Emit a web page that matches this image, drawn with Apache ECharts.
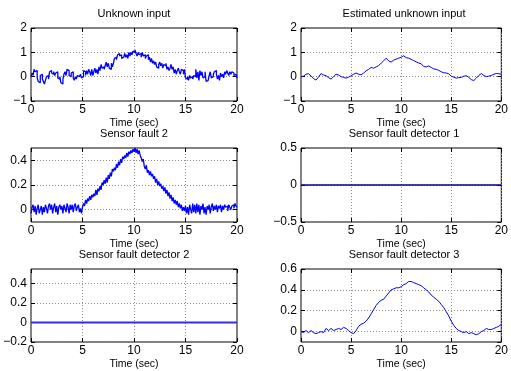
<!DOCTYPE html>
<html>
<head>
<meta charset="utf-8">
<script src="https://cdn.jsdelivr.net/npm/echarts@6/dist/echarts.min.js"></script>
<style>
html,body{margin:0;padding:0;background:#fff;}
#c{width:511px;height:371px;}
</style>
</head>
<body>
<div id="c"></div>
<script>
// ---------- data ----------
var titles = ['Unknown input', 'Estimated unknown input', 'Sensor fault 2',
              'Sensor fault detector 1', 'Sensor fault detector 2', 'Sensor fault detector 3'];
var xLabel = 'Time (sec)';
var xTicks = [0, 5, 10, 15, 20];

// sampled every 0.1 s (0 .. 20)
var dtFine = 0.1;
var unknownInput = [
  0.0, 0.15, 0.05, 0.3, 0.2, 0.25, -0.05, -0.2, -0.25, 0.05,
  0.1, -0.1, -0.2, -0.3, -0.15, 0.0, 0.05, -0.1, 0.2, 0.25,
  0.15, 0.1, 0.2, 0.05, 0.15, 0.2, -0.05, -0.1, 0.0, -0.25,
  -0.3, -0.1, 0.1, 0.2, 0.05, 0.3, 0.25, 0.05, 0.0, 0.15,
  0.2, -0.05, -0.15, 0.0, -0.1, 0.05, 0.0, -0.05, 0.1, -0.05,
  0.0, 0.25, 0.2, 0.05, 0.25, 0.1, 0.3, 0.2, 0.05, 0.3,
  0.05, 0.2, 0.35, 0.15, 0.3, 0.1, 0.4, 0.25, 0.5, 0.35,
  0.4, 0.3, 0.45, 0.6, 0.4, 0.55, 0.35, 0.3, 0.55, 0.4,
  0.55, 0.75, 0.8, 0.7, 0.9, 0.95, 0.85, 0.9, 0.75, 0.8,
  0.85, 0.95, 0.8, 0.9, 0.75, 1.0, 0.85, 1.0, 0.9, 1.05,
  1.0, 1.1, 0.95, 0.85, 1.0, 0.9, 0.95, 0.8, 1.0, 0.85,
  0.9, 0.75, 0.85, 0.9, 0.7, 0.8, 0.6, 0.75, 0.55, 0.65,
  0.5, 0.6, 0.4, 0.35, 0.5, 0.6, 0.45, 0.55, 0.35, 0.5,
  0.45, 0.55, 0.3, 0.4, 0.25, 0.35, 0.5, 0.3, 0.4, 0.15,
  0.3, 0.1, 0.25, 0.35, 0.2, 0.1, 0.3, 0.25, 0.1, 0.3,
  -0.05, -0.1, 0.0, -0.15, 0.05, -0.05, 0.0, -0.1, 0.05, 0.0,
  0.3, -0.05, 0.2, -0.15, 0.25, 0.05, 0.2, -0.05, 0.0, 0.2,
  -0.2, -0.15, -0.1, 0.05, 0.2, -0.05, 0.0, 0.1, 0.2, 0.25,
  0.1, -0.1, 0.05, -0.15, 0.15, 0.0, 0.1, -0.05, 0.2, 0.1,
  0.25, 0.15, 0.05, 0.2, 0.1, 0.2, 0.15, 0.05, 0.1, 0.05,
  -0.05
];
var sensorFault2 = [
  -0.03, 0.02, 0.04, -0.02, 0.03, -0.04, 0.01, 0.04, -0.03, 0.0,
  0.03, -0.04, 0.02, -0.02, 0.04, 0.01, -0.03, 0.03, 0.05, 0.0,
  0.04, -0.03, 0.02, 0.05, -0.02, 0.03, -0.04, 0.02, 0.04, 0.0,
  0.03, -0.03, 0.04, 0.01, -0.02, 0.05, 0.02, -0.03, 0.04, 0.0,
  0.04, -0.02, 0.03, 0.05, -0.01, 0.02, 0.04, -0.02, 0.01, -0.03,
  0.02, 0.05, 0.03, 0.08, 0.05, 0.09, 0.07, 0.11, 0.08, 0.12,
  0.1, 0.13, 0.11, 0.16, 0.12, 0.17, 0.15, 0.19, 0.16, 0.22,
  0.2, 0.24, 0.21, 0.26, 0.22, 0.28, 0.25, 0.3, 0.27, 0.33,
  0.31, 0.34, 0.32, 0.37, 0.34, 0.39, 0.36, 0.41, 0.38, 0.43,
  0.41, 0.44, 0.42, 0.46, 0.43, 0.47, 0.45, 0.48, 0.46, 0.49,
  0.47, 0.5, 0.46, 0.49, 0.45, 0.48, 0.44, 0.42, 0.39, 0.41,
  0.35, 0.33, 0.36, 0.3, 0.32, 0.28, 0.31, 0.27, 0.29, 0.25,
  0.27, 0.22, 0.25, 0.2, 0.23, 0.19, 0.21, 0.17, 0.19, 0.15,
  0.18, 0.13, 0.16, 0.11, 0.14, 0.09, 0.12, 0.07, 0.1, 0.05,
  0.08, 0.04, 0.07, 0.02, 0.05, 0.01, 0.04, -0.01, 0.02, -0.01,
  0.03, -0.03, 0.02, -0.04, 0.04, 0.0, -0.03, 0.05, -0.02, 0.04,
  -0.03, 0.05, -0.02, 0.04, -0.04, 0.03, 0.0, 0.05, -0.03, 0.02,
  -0.04, 0.03, 0.0, 0.04, -0.03, 0.02, 0.05, -0.01, 0.03, 0.0,
  0.04, -0.02, 0.03, 0.01, 0.04, -0.02, 0.03, 0.0, 0.04, 0.02,
  0.03, -0.01, 0.04, 0.02, 0.0, 0.03, 0.04, 0.01, 0.05, 0.03,
  0.02
];

// sampled every 0.25 s (0 .. 20)
var dtCoarse = 0.25;
var estimatedInput = [
  0.0, 0.02, 0.1, 0.12, 0.03, -0.08, -0.14, -0.02, 0.13, 0.07,
  0.04, -0.04, -0.1, 0.0, 0.1, 0.07, 0.0, -0.03, -0.06, -0.02,
  0.04, 0.1, 0.15, 0.1, 0.08, 0.15, 0.24, 0.3, 0.38, 0.35,
  0.4, 0.46, 0.55, 0.65, 0.76, 0.65, 0.6, 0.68, 0.72, 0.76,
  0.8, 0.86, 0.78, 0.76, 0.71, 0.66, 0.61, 0.56, 0.53, 0.42,
  0.4, 0.44, 0.38, 0.32, 0.3, 0.26, 0.2, 0.16, 0.15, 0.12,
  0.02, -0.02, -0.06, -0.04, -0.03, 0.02, 0.04, -0.03, -0.12, -0.16,
  -0.06, 0.05, 0.13, 0.05, 0.0, 0.02, 0.05, 0.1, 0.13, 0.12,
  0.1
];
var detector3 = [
  0.0, -0.01, 0.01, -0.01, 0.01, -0.01, -0.02, -0.01, 0.0, -0.01,
  0.03, 0.01, 0.03, 0.01, 0.02, 0.03, 0.02, 0.04, 0.03, 0.01,
  -0.01, -0.02, 0.01, 0.05, 0.07, 0.08, 0.1, 0.13, 0.17, 0.21,
  0.25, 0.28, 0.3, 0.31, 0.34, 0.37, 0.4, 0.41, 0.42, 0.42,
  0.43, 0.45, 0.46, 0.48, 0.48, 0.47, 0.46, 0.45, 0.44, 0.42,
  0.4, 0.38, 0.35, 0.33, 0.31, 0.29, 0.26, 0.23, 0.19, 0.15,
  0.1, 0.06, 0.03, 0.01, 0.0, -0.01, 0.0, -0.02, -0.01, -0.02,
  -0.03, -0.02, 0.0, 0.01, 0.03, 0.02, 0.02, 0.03, 0.04, 0.05,
  0.07
];
// constant detector outputs (start and end of time span)
var detector1 = [0, 0];
var detector2 = [0, 0];
var detectorT = [0, 20];

// y-axis settings per panel
var yMin = [-1, -1, -0.1, -0.5, -0.2, -0.1];
var yMax = [2, 2, 0.5, 0.5, 0.55, 0.6];
var yTicks = [[-1, 0, 1, 2], [-1, 0, 1, 2], [0, 0.2, 0.4], [-0.5, 0, 0.5], [-0.2, 0, 0.2, 0.4], [0, 0.2, 0.4, 0.6]];

// ---------- build ----------
function pairs(vals, dt) { return vals.map(function (v, i) { return [+(i * dt).toFixed(3), v]; }); }
function pairsT(ts, vals) { return vals.map(function (v, i) { return [ts[i], v]; }); }

var seriesData = [
  pairs(unknownInput, dtFine),
  pairs(estimatedInput, dtCoarse),
  pairs(sensorFault2, dtFine),
  pairsT(detectorT, detector1),
  pairsT(detectorT, detector2),
  pairs(detector3, dtCoarse)
];
var lineColor = ['#0000ff', '#0000ff', '#0000ff', '#00008c', '#3030f0', '#0000ff'];
var lineWidth = [1.3, 1, 1.3, 1.3, 2, 1];
var lineStep = ['end', false, 'end', false, false, false];

var colLeft = [31, 301];
var rowTop = [28, 148, 269];
var plotW = 206, plotH = [73, 74, 74];

var FONT = 'Liberation Sans, Arial, Helvetica, sans-serif';
var fmt = function (v) {
  var s = String(+v.toFixed(3));
  return s.replace('-', '\u2212');
};
var tickStyle = { show: true, inside: true, length: 4, lineStyle: { color: '#000', width: 1 } };
var gridLine = { show: true, lineStyle: { color: '#8c8c8c', width: 1, type: [1, 2] } };

var grids = [], xAxes = [], yAxes = [], series = [], graphics = [];
for (var p = 0; p < 6; p++) {
  var r = Math.floor(p / 2), c = p % 2;
  grids.push({ left: colLeft[c], top: rowTop[r], width: plotW, height: plotH[r],
    show: true, borderColor: '#000', borderWidth: 1, backgroundColor: 'transparent', containLabel: false });
  var ticksY = yTicks[p];
  var interval = ticksY[1] - ticksY[0];
  var minIsTick = Math.abs(ticksY[0] - yMin[p]) < 1e-9;
  var maxIsTick = Math.abs(ticksY[ticksY.length - 1] - yMax[p]) < 1e-9;
  var yBase = {
    type: 'value', gridIndex: p, min: yMin[p], max: yMax[p],
    splitNumber: Math.round((yMax[p] - yMin[p]) / interval),
    axisLine: { show: false, onZero: false },
    axisTick: tickStyle
  };
  if (minIsTick) { yBase.interval = interval; }
  yAxes.push(Object.assign({}, yBase, {
    position: 'left',
    axisLabel: { show: true, color: '#000', fontFamily: FONT, fontSize: 12, margin: 4,
      showMinLabel: minIsTick, showMaxLabel: maxIsTick, formatter: fmt },
    splitLine: gridLine
  }));
  yAxes.push(Object.assign({}, yBase, {
    position: 'right', axisLabel: { show: false }, splitLine: { show: false }
  }));
  var xBase = {
    type: 'value', gridIndex: p, min: xTicks[0], max: xTicks[xTicks.length - 1], interval: xTicks[1] - xTicks[0],
    axisLine: { show: false, onZero: false },
    axisTick: tickStyle
  };
  xAxes.push(Object.assign({}, xBase, {
    position: 'bottom',
    axisLabel: { show: true, color: '#000', fontFamily: FONT, fontSize: 12, margin: 3, formatter: fmt },
    splitLine: gridLine,
    name: xLabel, nameLocation: 'middle', nameGap: 17,
    nameTextStyle: { color: '#000', fontFamily: FONT, fontSize: 10.5 }
  }));
  xAxes.push(Object.assign({}, xBase, {
    position: 'top', axisLabel: { show: false }, splitLine: { show: false }
  }));
  series.push({
    type: 'line', xAxisIndex: 2 * p, yAxisIndex: 2 * p, data: seriesData[p],
    showSymbol: false, symbol: 'none', step: lineStep[p], animation: false,
    lineStyle: { color: lineColor[p], width: lineWidth[p] }, z: 3, clip: true
  });
  graphics.push({
    type: 'text', x: colLeft[c] + plotW / 2, y: rowTop[r] - 14,
    style: { text: titles[p], fill: '#000', font: '11px ' + FONT, textAlign: 'center', textVerticalAlign: 'middle' }
  });
}

var chart = echarts.init(document.getElementById('c'), null, { renderer: 'canvas' });
chart.setOption({
  animation: false,
  backgroundColor: '#fff',
  grid: grids,
  xAxis: xAxes,
  yAxis: yAxes,
  series: series,
  graphic: graphics
});
</script>
</body>
</html>
